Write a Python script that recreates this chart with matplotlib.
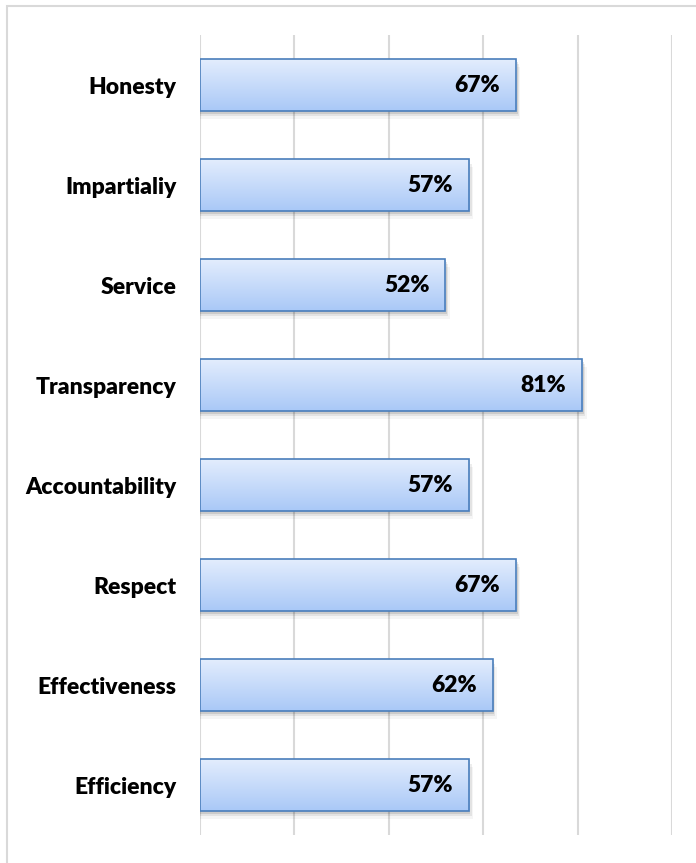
import numpy as np
import matplotlib
matplotlib.use("Agg")
import matplotlib.pyplot as plt
from matplotlib.colors import LinearSegmentedColormap
from matplotlib.patches import Rectangle

# Survey results per value
categories = ["Honesty", "Impartialiy", "Service", "Transparency",
              "Accountability", "Respect", "Effectiveness", "Efficiency"]
values = [67, 57, 52, 81, 57, 67, 62, 57]
ticks = [0, 20, 40, 60, 80, 100]

plt.rcParams["font.family"] = ["Lato", "DejaVu Sans"]

fig = plt.figure(figsize=(6.96, 8.63), dpi=100)
ax = fig.add_axes([200 / 696, 1 - 835 / 863, 472 / 696, 800 / 863])

# light gray frame around the chart area
fig.patches.append(Rectangle((7 / 696, -0.05), 1.1, 1 - 6 / 863 + 0.05,
                             transform=fig.transFigure, fill=False,
                             edgecolor="#d9d9d9", linewidth=1.5))

n = len(categories)
ypos = np.arange(n)[::-1]
bar_h = 0.52

cmap = LinearSegmentedColormap.from_list("barfill", ["#a9c8f7", "#e3edfd"])
grad = np.linspace(0, 1, 256).reshape(-1, 1)

ax.set_xlim(0, 100)
ax.set_ylim(-0.5, n - 0.5)

for y, v in zip(ypos, values):
    # soft shadow below and right of the bar
    for k, a in enumerate([0.10, 0.07, 0.04]):
        off = 0.012 * (k + 1)
        ax.add_patch(Rectangle((0, y - bar_h / 2 - off * 2.2), v + off * 25, bar_h,
                               facecolor="#000000", alpha=a, edgecolor="none",
                               zorder=2))
    im = ax.imshow(grad, cmap=cmap, aspect="auto", origin="lower",
                   extent=[0, v, y - bar_h / 2, y + bar_h / 2], zorder=3)
    rect = Rectangle((0, y - bar_h / 2), v, bar_h, facecolor="none",
                     edgecolor="#4a7ebb", linewidth=1.2, zorder=4)
    ax.add_patch(rect)
    im.set_clip_path(rect)
    ax.annotate(f"{v}%", xy=(v, y), xytext=(-16, 0), textcoords="offset pixels",
                ha="right", va="center", fontsize=16.5, fontweight="heavy",
                color="#000000", zorder=5)

ax.set_xticks(ticks)
ax.set_xticklabels([])
ax.grid(axis="x", color="#d9d9d9", linewidth=1.5, zorder=0)
ax.set_axisbelow(True)
ax.set_yticks(ypos)
ax.set_yticklabels(categories, fontsize=16.5, fontweight="heavy")
ax.tick_params(axis="both", length=0)
ax.tick_params(axis="y", pad=17)
for s in ax.spines.values():
    s.set_visible(False)

fig.savefig("out.png", dpi=100)
